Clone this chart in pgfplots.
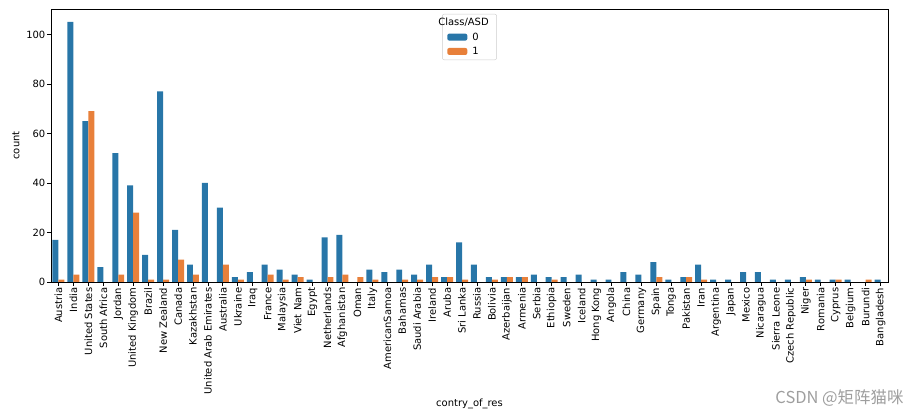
\documentclass[border=0pt]{standalone}
\usepackage{pgfplots}
\pgfplotsset{compat=1.18}
\usepackage{pgfplotstable}
\usepackage{fontspec}
\setmainfont{DejaVu Sans}
\newfontfamily\cjk{Noto Sans CJK SC}
\definecolor{sbblue}{HTML}{2876A8}
\definecolor{sborange}{HTML}{E8803A}
\definecolor{legframe}{HTML}{CCCCCC}

\pgfplotstableread{
idx c0 c1
0 17 1
1 105 3
2 65 69
3 6 0
4 52 3
5 39 28
6 11 1
7 77 1
8 21 9
9 7 3
10 40 0
11 30 7
12 2 1
13 4 0
14 7 3
15 5 1
16 3 2
17 1 0
18 18 2
19 19 3
20 0 2
21 5 1
22 4 0
23 5 1
24 3 1
25 7 2
26 2 2
27 16 1
28 7 0
29 2 1
30 2 2
31 2 2
32 3 0
33 2 1
34 2 0
35 3 0
36 1 0
37 1 0
38 4 0
39 3 0
40 8 2
41 1 0
42 2 2
43 7 1
44 1 0
45 1 0
46 4 0
47 4 0
48 1 0
49 1 0
50 2 1
51 1 0
52 1 1
53 1 0
54 0 1
55 1 0
}\datatable

\begin{document}
\begin{tikzpicture}
\useasboundingbox (0,0) rectangle (923bp,416bp);
\begin{axis}[
  at={(51bp,134bp)}, anchor=south west,
  scale only axis, width=837bp, height=273bp,
  xmin=-0.5, xmax=55.5, ymin=0, ymax=110.25,
  xtick={0,...,55},
  xticklabels={Austria,India,United States,South Africa,Jordan,United Kingdom,Brazil,New Zealand,Canada,Kazakhstan,United Arab Emirates,Australia,Ukraine,Iraq,France,Malaysia,Viet Nam,Egypt,Netherlands,Afghanistan,Oman,Italy,AmericanSamoa,Bahamas,Saudi Arabia,Ireland,Aruba,Sri Lanka,Russia,Bolivia,Azerbaijan,Armenia,Serbia,Ethiopia,Sweden,Iceland,Hong Kong,Angola,China,Germany,Spain,Tonga,Pakistan,Iran,Argentina,Japan,Mexico,Nicaragua,Sierra Leone,Czech Republic,Niger,Romania,Cyprus,Belgium,Burundi,Bangladesh},
  ytick={0,20,40,60,80,100},
  tick pos=left, tick align=outside, major tick length=3.5bp,
  tick style={black, line width=0.8bp},
  axis line style={line width=0.8bp},
  /pgf/number format/assume math mode=true,
  tick label style={font=\fontsize{10}{12}\selectfont},
  xticklabel style={rotate=90, anchor=east, inner sep=2bp},
  yticklabel style={inner sep=2bp},
  xlabel={contry\_of\_res},
  ylabel={count},
  label style={font=\fontsize{10}{12}\selectfont},
  xlabel style={at={(axis description cs:0.5,-0.4469)}, anchor=center},
  ylabel style={at={(axis description cs:-0.0418,0.5)}, anchor=center},
  ybar, bar width=0.4,
  legend style={at={(axis description cs:0.5,0.982)}, anchor=north,
    draw=legframe, rounded corners=2bp, fill=white,
    font=\fontsize{10}{12}\selectfont, inner xsep=3bp, inner ysep=2.5bp,
    row sep=2.5bp, nodes={inner xsep=5bp, inner ysep=1.5bp}},
  legend cell align=left,
]
\addlegendimage{empty legend}
\addlegendentry{\hspace*{-34bp}Class/ASD}
\addplot[fill=sbblue, draw=none, bar shift=-0.2,
  legend image code/.code={\fill[sbblue] (2bp,-3.5bp) rectangle (22bp,3.5bp);}]
  table[x=idx, y=c0]{\datatable};
\addlegendentry{0}
\addplot[fill=sborange, draw=none, bar shift=0.2,
  legend image code/.code={\fill[sborange] (2bp,-3.5bp) rectangle (22bp,3.5bp);}]
  table[x=idx, y=c1]{\datatable};
\addlegendentry{1}
\end{axis}
\node[anchor=east, text=black!38, font=\cjk\fontsize{16.5}{18}\selectfont] at (907bp,18bp) {CSDN @矩阵猫咪};
\end{tikzpicture}
\end{document}
